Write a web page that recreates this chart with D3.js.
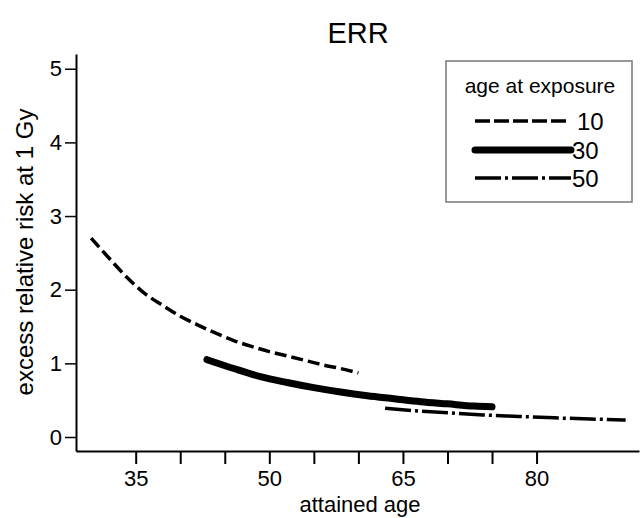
<!DOCTYPE html>
<html>
<head>
<meta charset="utf-8">
<script src="https://cdn.jsdelivr.net/npm/d3@7"></script>
<style>
  body { margin: 0; background: #fff; }
  svg { display: block; font-family: "Liberation Sans", Arial, sans-serif; }
</style>
</head>
<body>
<svg id="chart" width="640" height="518"></svg>
<script>
// age at exposure 10
const ages10 = [30, 32, 34, 36, 38, 40, 42, 44, 46, 48, 50, 52, 54, 56, 58, 60];
const err10 = [2.70, 2.43, 2.17, 1.95, 1.79, 1.64, 1.52, 1.41, 1.31, 1.23, 1.16, 1.10, 1.04, 0.98, 0.93, 0.87];
// age at exposure 30
const ages30 = [43, 46, 49, 52, 55, 58, 61, 64, 67, 70, 73, 75];
const err30 = [1.05, 0.93, 0.82, 0.74, 0.67, 0.61, 0.56, 0.52, 0.48, 0.45, 0.42, 0.41];
// age at exposure 50
const ages50 = [63, 66, 70, 74, 78, 82, 86, 90];
const err50 = [0.39, 0.36, 0.33, 0.30, 0.28, 0.26, 0.245, 0.23];

const xTicks = [35, 40, 45, 50, 55, 60, 65, 70, 75, 80];
const xLabels = [35, 50, 65, 80];
const yTicks = [0, 1, 2, 3, 4, 5];
const legendLabels = ["10", "30", "50"];

const series = [
  { name: legendLabels[0], x: ages10, y: err10, width: 3.5, dash: "12,5", cap: "butt" },
  { name: legendLabels[1], x: ages30, y: err30, width: 7, dash: null, cap: "round" },
  { name: legendLabels[2], x: ages50, y: err50, width: 3.5, dash: "26,4,3,4", cap: "butt" }
];

const svg = d3.select("#chart");
const plotLeft = 76, plotRight = 639, plotTop = 54, plotBottom = 451;

const x = d3.scaleLinear().domain([28.3, 91.5]).range([plotLeft, plotRight]);
const y = d3.scaleLinear().domain([-0.19, 5.2]).range([plotBottom, plotTop]);

// axes
const xAxis = svg.append("g")
  .attr("transform", `translate(0,${plotBottom})`)
  .call(d3.axisBottom(x).tickValues(xTicks).tickSize(13).tickSizeOuter(0).tickPadding(6)
    .tickFormat(d => xLabels.includes(d) ? d : ""));
xAxis.select(".domain").attr("stroke-width", 2);
xAxis.selectAll(".tick line").attr("stroke-width", 2);
xAxis.selectAll("text").attr("font-size", 22).attr("fill", "#000")
  .attr("font-family", "Liberation Sans, Arial, sans-serif");

const yAxis = svg.append("g")
  .attr("transform", `translate(${plotLeft},0)`)
  .call(d3.axisLeft(y).tickValues(yTicks).tickSize(11).tickSizeOuter(0).tickPadding(3)
    .tickFormat(d3.format("d")));
yAxis.select(".domain").attr("stroke-width", 2);
yAxis.selectAll(".tick line").attr("stroke-width", 1.5);
yAxis.selectAll("text").attr("font-size", 22).attr("fill", "#000")
  .attr("font-family", "Liberation Sans, Arial, sans-serif");

// titles
svg.append("text").attr("x", 358).attr("y", 43).attr("text-anchor", "middle")
  .attr("font-size", 29).text("ERR");
svg.append("text").attr("x", 360).attr("y", 512).attr("text-anchor", "middle")
  .attr("font-size", 22).text("attained age");
svg.append("text").attr("transform", "translate(33,252) rotate(-90)")
  .attr("text-anchor", "middle").attr("font-size", 24).text("excess relative risk at 1 Gy");

// curves
const line = d3.line().x(d => x(d[0])).y(d => y(d[1])).curve(d3.curveMonotoneX);
series.forEach(s => {
  svg.append("path")
    .datum(s.x.map((a, i) => [a, s.y[i]]))
    .attr("fill", "none")
    .attr("stroke", "#000")
    .attr("stroke-width", s.width)
    .attr("stroke-linecap", s.cap)
    .attr("stroke-dasharray", s.dash)
    .attr("d", line);
});

// legend
const lg = svg.append("g");
lg.append("rect").attr("x", 446).attr("y", 61).attr("width", 186).attr("height", 141)
  .attr("fill", "#fff").attr("stroke", "#777").attr("stroke-width", 1.5);
lg.append("text").attr("x", 540).attr("y", 93).attr("text-anchor", "middle")
  .attr("font-size", 21).text("age at exposure");
const rowY = [121, 150, 178];
const rowBase = [130, 159, 187];
series.forEach((s, i) => {
  lg.append("line").attr("x1", 475).attr("x2", i === 0 ? 566 : 571)
    .attr("y1", rowY[i]).attr("y2", rowY[i])
    .attr("stroke", "#000").attr("stroke-width", s.width)
    .attr("stroke-linecap", s.cap).attr("stroke-dasharray", i === 0 ? "15,4" : s.dash);
  lg.append("text").attr("x", i === 0 ? 577 : 572).attr("y", rowBase[i])
    .attr("font-size", 24).text(s.name);
});
</script>
</body>
</html>
